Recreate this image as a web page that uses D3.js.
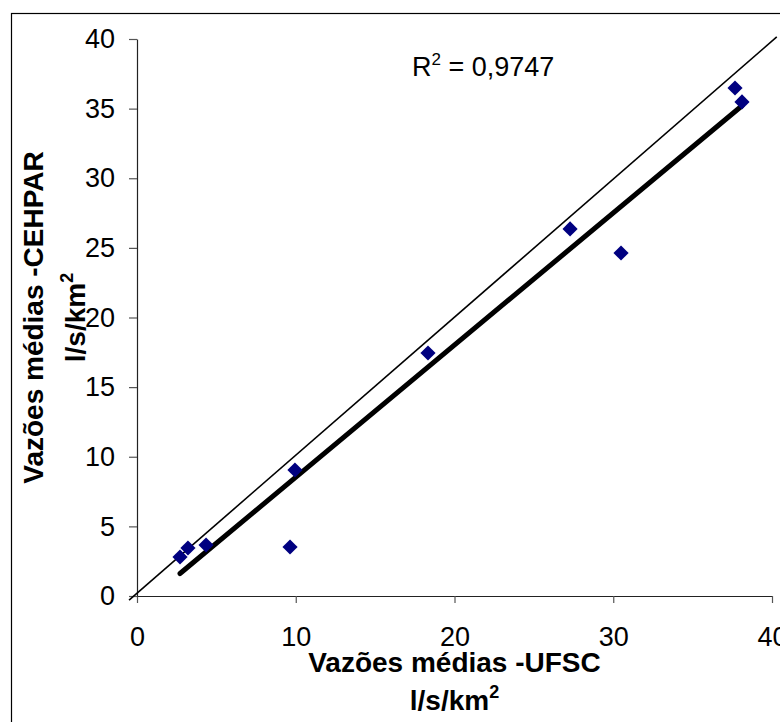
<!DOCTYPE html>
<html>
<head>
<meta charset="utf-8">
<script src="https://cdn.jsdelivr.net/npm/d3@7"></script>
<style>
  body { margin: 0; background: #fff; }
  svg { display: block; font-family: Arial, "Liberation Sans", sans-serif; }
</style>
</head>
<body>
<div id="chart"></div>
<script>
const width = 780;
const height = 722;

// data (l/s/km2)
const ufsc   = [2.71, 3.21, 4.35, 9.64, 9.95, 18.33, 27.28, 30.49, 37.67, 38.11];
const cehpar = [2.80, 3.45, 3.66, 3.52, 9.05, 17.45, 26.36, 24.63, 36.48, 35.48];
const xTicks = [0, 10, 20, 30, 40];
const yTicks = [0, 5, 10, 15, 20, 25, 30, 35, 40];
const oneToOneX = [-0.5, 40.3];
const oneToOneY = [-0.3, 40.15];
const r2Label = "0,9747";

const svg = d3.select("#chart")
  .append("svg")
    .attr("width", width)
    .attr("height", height);

// outer chart border (runs off the right / bottom edge)
svg.append("rect")
  .attr("x", 11.5)
  .attr("y", 13.5)
  .attr("width", 800)
  .attr("height", 760)
  .attr("fill", "none")
  .attr("stroke", "#000")
  .attr("stroke-width", 1.2);

const x = d3.scaleLinear().domain([0, 40]).range([137, 772]);
const y = d3.scaleLinear().domain([0, 40]).range([596, 39]);

const xAxis = svg.append("g")
  .attr("transform", `translate(0,${y(0)})`)
  .call(d3.axisBottom(x).tickValues(xTicks).tickSize(7).tickSizeOuter(0).tickPadding(24));
const yAxis = svg.append("g")
  .attr("transform", `translate(${x(0)},0)`)
  .call(d3.axisLeft(y).tickValues(yTicks).tickSize(8).tickSizeOuter(0).tickPadding(14));

[xAxis, yAxis].forEach(g => {
  g.select(".domain").attr("stroke", "#222").attr("stroke-width", 1.2);
  g.selectAll(".tick line").attr("stroke", "#555").attr("stroke-width", 1.2);
  g.selectAll(".tick text")
    .attr("fill", "#000")
    .style("font-size", "27px")
    .style("font-family", "Arial, 'Liberation Sans', sans-serif");
});

// 1:1 reference line
svg.append("line")
  .attr("x1", x(oneToOneX[0])).attr("y1", y(oneToOneY[0]))
  .attr("x2", x(oneToOneX[1])).attr("y2", y(oneToOneY[1]))
  .attr("stroke", "#000")
  .attr("stroke-width", 1.6);

// linear trend line (least squares over the points)
const mx = d3.mean(ufsc), my = d3.mean(cehpar);
const slope = d3.sum(ufsc, (v, i) => (v - mx) * (cehpar[i] - my)) / d3.sum(ufsc, v => (v - mx) ** 2);
const icpt = my - slope * mx;
const [x0, x1] = d3.extent(ufsc);
svg.append("line")
  .attr("x1", x(x0)).attr("y1", y(icpt + slope * x0))
  .attr("x2", x(x1)).attr("y2", y(icpt + slope * x1))
  .attr("stroke", "#000")
  .attr("stroke-width", 5)
  .attr("stroke-linecap", "round");

// diamonds
const diamond = d3.symbol().type(d3.symbolSquare).size(115);
svg.selectAll(".pt")
  .data(ufsc.map((v, i) => [v, cehpar[i]]))
  .enter()
  .append("path")
    .attr("class", "pt")
    .attr("d", diamond)
    .attr("transform", d => `translate(${x(d[0])},${y(d[1])}) rotate(45)`)
    .attr("fill", "#000080");

// R² label
const r2 = svg.append("text")
  .attr("x", 412)
  .attr("y", 76)
  .style("font-size", "27px")
  .attr("fill", "#000");
r2.append("tspan").text("R");
r2.append("tspan").attr("dy", -11).style("font-size", "17px").text("2");
r2.append("tspan").attr("dy", 11).text(` = ${r2Label}`);

// axis titles
function unitLabel(sel) {
  sel.append("tspan").text("l/s/km");
  sel.append("tspan").attr("dy", -12).style("font-size", "18px").text("2");
}

const cx = (x(0) + x(40)) / 2;
const cy = (y(0) + y(40)) / 2;

svg.append("text")
  .attr("x", cx).attr("y", 672)
  .attr("text-anchor", "middle")
  .style("font-size", "28px").style("font-weight", "bold")
  .text("Vazões médias -UFSC");
svg.append("text")
  .attr("x", cx).attr("y", 710)
  .attr("text-anchor", "middle")
  .style("font-size", "28px").style("font-weight", "bold")
  .call(unitLabel);

svg.append("text")
  .attr("transform", `translate(43,${cy}) rotate(-90)`)
  .attr("text-anchor", "middle")
  .style("font-size", "28px").style("font-weight", "bold")
  .text("Vazões médias -CEHPAR");
svg.append("text")
  .attr("transform", `translate(85,${cy}) rotate(-90)`)
  .attr("text-anchor", "middle")
  .style("font-size", "28px").style("font-weight", "bold")
  .call(unitLabel);
</script>
</body>
</html>
